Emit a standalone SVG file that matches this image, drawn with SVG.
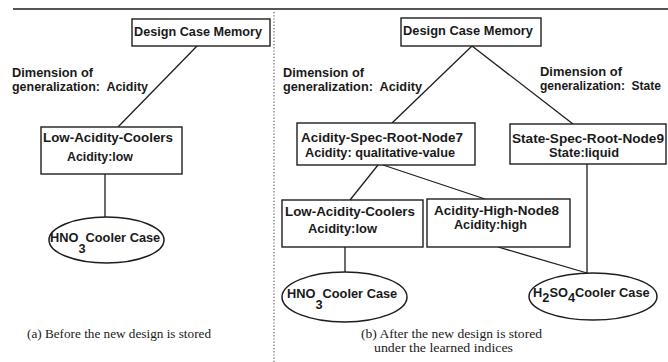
<svg xmlns="http://www.w3.org/2000/svg" width="668" height="362" viewBox="0 0 668 362">
<style>
.bx{fill:#fff;stroke:#1e1e1e;stroke-width:1.4}
.el{fill:#fff;stroke:#1e1e1e;stroke-width:1.5}
.ln{stroke:#1e1e1e;stroke-width:1.3;fill:none}
.t{font-family:"Liberation Sans",Arial,sans-serif;font-weight:bold;font-size:12.8px;fill:#1a1a1a}
.c{font-family:"Liberation Serif","Times New Roman",serif;font-size:13px;fill:#1a1a1a}
</style>
<rect width="668" height="362" fill="#fff"/>
<line x1="13" y1="9" x2="668" y2="9" stroke="#1e1e1e" stroke-width="1.5"/>
<line x1="274" y1="12" x2="274" y2="362" stroke="#555" stroke-width="1.2" stroke-dasharray="1.2,2"/>

<g id="connectors">
<line class="ln" x1="198" y1="45" x2="118" y2="127"/>
<line class="ln" x1="105" y1="174" x2="105" y2="218"/>
<line class="ln" x1="472" y1="46" x2="392" y2="123"/>
<line class="ln" x1="472" y1="46" x2="573" y2="124"/>
<line class="ln" x1="378" y1="165" x2="350" y2="200"/>
<line class="ln" x1="383" y1="165" x2="485" y2="199"/>
<line class="ln" x1="345" y1="247" x2="345" y2="272"/>
<line class="ln" x1="587" y1="164" x2="587" y2="273"/>
<line class="ln" x1="498" y1="247" x2="587" y2="273"/>
</g>

<g id="labels">
<text class="t" x="12" y="77" textLength="81" lengthAdjust="spacingAndGlyphs">Dimension of</text>
<text class="t" x="12" y="91" textLength="136" lengthAdjust="spacingAndGlyphs" xml:space="preserve">generalization:  Acidity</text>
<text class="t" x="283" y="77" textLength="81" lengthAdjust="spacingAndGlyphs">Dimension of</text>
<text class="t" x="283" y="91" textLength="139" lengthAdjust="spacingAndGlyphs" xml:space="preserve">generalization:  Acidity</text>
<text class="t" x="540" y="76" textLength="82" lengthAdjust="spacingAndGlyphs">Dimension of</text>
<text class="t" x="540" y="90" textLength="121" lengthAdjust="spacingAndGlyphs" xml:space="preserve">generalization:  State</text>
</g>

<g id="a-dcm">
<rect class="bx" x="132" y="19" width="138" height="27"/>
<text class="t" x="134" y="36" textLength="128" lengthAdjust="spacingAndGlyphs">Design Case Memory</text>
</g>
<g id="a-low">
<rect class="bx" x="41" y="127" width="141" height="47"/>
<text class="t" x="43" y="142" textLength="130" lengthAdjust="spacingAndGlyphs">Low-Acidity-Coolers</text>
<text class="t" x="67" y="161" textLength="66" lengthAdjust="spacingAndGlyphs">Acidity:low</text>
</g>
<g id="a-hno3">
<ellipse class="el" cx="106.5" cy="240" rx="57.5" ry="23"/>
<text class="t" x="50" y="242">HNO<tspan dy="11">3</tspan><tspan dy="-11">Cooler Case</tspan></text>
</g>
<text class="c" x="27" y="338" textLength="184" lengthAdjust="spacingAndGlyphs">(a) Before the new design is stored</text>

<g id="b-dcm">
<rect class="bx" x="401" y="18" width="140" height="28"/>
<text class="t" x="403" y="35" textLength="130" lengthAdjust="spacingAndGlyphs">Design Case Memory</text>
</g>
<g id="b-node7">
<rect class="bx" x="297" y="123" width="178" height="42"/>
<text class="t" x="301" y="142" textLength="162" lengthAdjust="spacingAndGlyphs">Acidity-Spec-Root-Node7</text>
<text class="t" x="305" y="157" textLength="150" lengthAdjust="spacingAndGlyphs">Acidity: qualitative-value</text>
</g>
<g id="b-node9">
<rect class="bx" x="510" y="124" width="156" height="40"/>
<text class="t" x="512" y="143" textLength="152" lengthAdjust="spacingAndGlyphs">State-Spec-Root-Node9</text>
<text class="t" x="549" y="157" textLength="70" lengthAdjust="spacingAndGlyphs">State:liquid</text>
</g>
<g id="b-low">
<rect class="bx" x="282" y="200" width="141" height="47"/>
<text class="t" x="285" y="216" textLength="130" lengthAdjust="spacingAndGlyphs">Low-Acidity-Coolers</text>
<text class="t" x="308" y="233" textLength="69" lengthAdjust="spacingAndGlyphs">Acidity:low</text>
</g>
<g id="b-node8">
<rect class="bx" x="427" y="199" width="143" height="48"/>
<text class="t" x="434" y="215" textLength="125" lengthAdjust="spacingAndGlyphs">Acidity-High-Node8</text>
<text class="t" x="454" y="229" textLength="73" lengthAdjust="spacingAndGlyphs">Acidity:high</text>
</g>
<g id="b-hno3">
<ellipse class="el" cx="344.5" cy="297" rx="62.5" ry="25"/>
<text class="t" x="287" y="298">HNO<tspan dy="11">3</tspan><tspan dy="-11">Cooler Case</tspan></text>
</g>
<g id="b-h2so4">
<ellipse class="el" cx="593" cy="296.5" rx="64" ry="23.5"/>
<text class="t" x="533" y="297">H<tspan dy="5">2</tspan><tspan dy="-5">SO</tspan><tspan dy="5">4</tspan><tspan dy="-5">Cooler Case</tspan></text>
</g>
<text class="c" x="361" y="338" textLength="181" lengthAdjust="spacingAndGlyphs">(b) After the new design is stored</text>
<text class="c" x="374" y="352" textLength="139" lengthAdjust="spacingAndGlyphs">under the learned indices</text>
</svg>
